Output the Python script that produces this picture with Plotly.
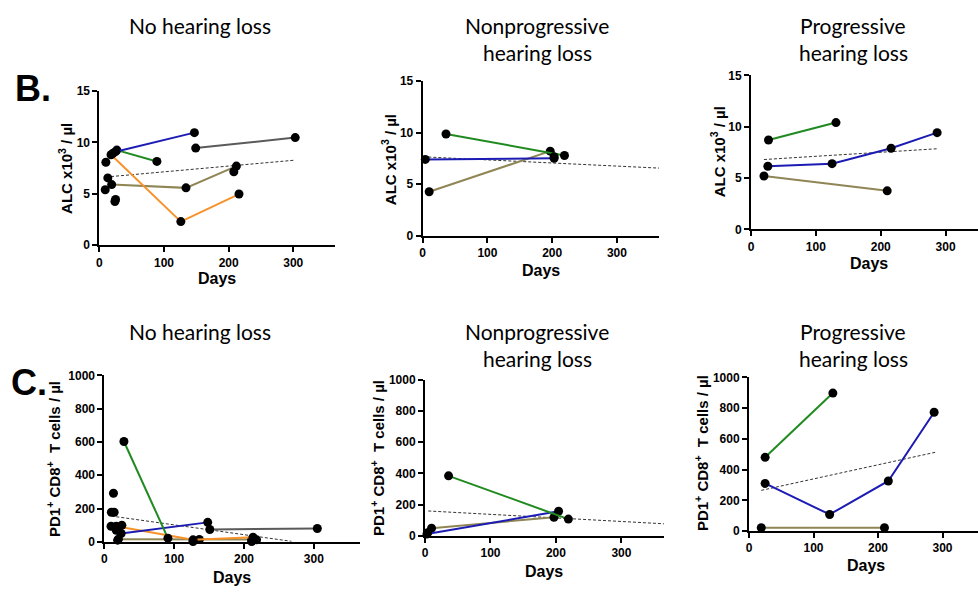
import plotly.graph_objects as go

W, H = 978, 596

# ---------------- DATA ----------------
# colours of the individual patients' lines
C_BLUE = "#1c1cb4"
C_GREEN = "#1f8a1f"
C_ORANGE = "#f7922a"
C_GRAY = "#5a5a5a"
C_OLIVE = "#8f8555"

# Panel B1 : No hearing loss, ALC
b1_blue_days, b1_blue_val = [25, 147], [9.1, 10.95]
b1_green_days, b1_green_val = [27, 89], [9.25, 8.15]
b1_gray_days, b1_gray_val = [149, 303], [9.45, 10.47]
b1_olive_days, b1_olive_val = [19, 134, 212], [5.9, 5.58, 7.7]
b1_orange_days, b1_orange_val = [18, 126, 216], [8.8, 2.3, 4.98]
b1_dot_days = [10, 13, 9, 25, 24, 21, 208]
b1_dot_val = [8.07, 6.55, 5.4, 4.45, 4.25, 8.95, 7.15]
b1_trend_days, b1_trend_val = [18, 302], [6.68, 8.27]

# Panel B2 : Nonprogressive hearing loss, ALC
b2_green_days, b2_green_val = [36, 219], [9.87, 7.78]
b2_blue_days, b2_blue_val = [4, 203], [7.4, 7.5]
b2_olive_days, b2_olive_val = [10, 197], [4.25, 8.2]
b2_dot_days, b2_dot_val = [203], [7.66]
b2_trend_days, b2_trend_val = [1, 366], [7.65, 6.55]

# Panel B3 : Progressive hearing loss, ALC
b3_green_days, b3_green_val = [27, 131], [8.7, 10.4]
b3_blue_days, b3_blue_val = [26, 125, 216, 287], [6.15, 6.4, 7.9, 9.42]
b3_olive_days, b3_olive_val = [20, 210], [5.2, 3.75]
b3_trend_days, b3_trend_val = [20, 287], [6.8, 7.85]

# Panel C1 : No hearing loss, PD1+ CD8+
c1_green_days, c1_green_val = [28, 91], [603, 22]
c1_blue_days, c1_blue_val = [24, 148], [50, 117]
c1_orange_days, c1_orange_val = [17, 127, 213], [94, 12, 28]
c1_gray_days, c1_gray_val = [151, 305], [74, 80]
c1_olive_days, c1_olive_val = [20, 136, 211], [16, 14, 14]
c1_dot_days = [13, 10, 14, 9.5, 25, 17, 19, 218, 127, 211]
c1_dot_val = [292, 178, 178, 94, 100, 69, 10, 12, 2, 2]
c1_trend_days, c1_trend_val = [10, 268], [155, 3]

# Panel C2 : Nonprogressive hearing loss, PD1+ CD8+
c2_green_days, c2_green_val = [36, 219], [385, 108]
c2_blue_days, c2_blue_val = [3, 204], [12, 158]
c2_olive_days, c2_olive_val = [10, 197], [50, 120]
c2_dot_days, c2_dot_val = [4], [21]
c2_trend_days, c2_trend_val = [5, 365], [160, 78]

# Panel C3 : Progressive hearing loss, PD1+ CD8+
c3_green_days, c3_green_val = [25, 130], [480, 898]
c3_blue_days, c3_blue_val = [25, 125, 216, 287], [310, 108, 326, 773]
c3_olive_days, c3_olive_val = [19, 210], [22, 22]
c3_trend_days, c3_trend_val = [19, 289], [265, 513]

x_ticks = [0, 100, 200, 300]
b_ticks = [0, 5, 10, 15]
c_ticks = [0, 200, 400, 600, 800, 1000]

titles_top = [["No hearing loss"], ["Nonprogressive", "hearing loss"], ["Progressive", "hearing loss"]]

# ---------------- LAYOUT helpers ----------------
def px_x(p):
    return p / W

def px_y(p):
    return 1 - p / H

# pixel boxes: (x0, x1, ytop, ybottom, xmax, ymax)
boxes = {
    1: (96.7, 333.3, 86, 244, 365, 15),
    2: (421, 658, 76, 234, 365, 15),
    3: (750.3, 978, 70, 227.7, 350, 15),
    4: (101.7, 358, 377.3, 547.7, 366, 1000),
    5: (423.3, 663, 381.7, 541.7, 365, 1000),
    6: (748.3, 978, 379.3, 536.7, 355, 1000),
}

fig = go.Figure()

def add_series(k, days, vals, color):
    ax = "" if k == 1 else str(k)
    fig.add_trace(go.Scatter(
        x=days, y=vals, mode="lines+markers", xaxis="x" + ax, yaxis="y" + ax,
        line=dict(color=color, width=2),
        marker=dict(color="black", size=9), showlegend=False, cliponaxis=False))

def add_dots(k, days, vals):
    ax = "" if k == 1 else str(k)
    fig.add_trace(go.Scatter(
        x=days, y=vals, mode="markers", xaxis="x" + ax, yaxis="y" + ax,
        marker=dict(color="black", size=9), showlegend=False, cliponaxis=False))

def add_trend(k, days, vals):
    ax = "" if k == 1 else str(k)
    fig.add_trace(go.Scatter(
        x=days, y=vals, mode="lines", xaxis="x" + ax, yaxis="y" + ax,
        line=dict(color="#333333", width=1, dash="3px,2px"), showlegend=False))

# B1
add_trend(1, b1_trend_days, b1_trend_val)
add_series(1, b1_olive_days, b1_olive_val, C_OLIVE)
add_series(1, b1_orange_days, b1_orange_val, C_ORANGE)
add_series(1, b1_gray_days, b1_gray_val, C_GRAY)
add_series(1, b1_green_days, b1_green_val, C_GREEN)
add_series(1, b1_blue_days, b1_blue_val, C_BLUE)
add_dots(1, b1_dot_days, b1_dot_val)
# B2
add_trend(2, b2_trend_days, b2_trend_val)
add_series(2, b2_olive_days, b2_olive_val, C_OLIVE)
add_series(2, b2_blue_days, b2_blue_val, C_BLUE)
add_series(2, b2_green_days, b2_green_val, C_GREEN)
add_dots(2, b2_dot_days, b2_dot_val)
# B3
add_trend(3, b3_trend_days, b3_trend_val)
add_series(3, b3_olive_days, b3_olive_val, C_OLIVE)
add_series(3, b3_blue_days, b3_blue_val, C_BLUE)
add_series(3, b3_green_days, b3_green_val, C_GREEN)
# C1
add_trend(4, c1_trend_days, c1_trend_val)
add_series(4, c1_gray_days, c1_gray_val, C_GRAY)
add_series(4, c1_olive_days, c1_olive_val, C_OLIVE)
add_series(4, c1_orange_days, c1_orange_val, C_ORANGE)
add_series(4, c1_blue_days, c1_blue_val, C_BLUE)
add_series(4, c1_green_days, c1_green_val, C_GREEN)
add_dots(4, c1_dot_days, c1_dot_val)
# C2
add_trend(5, c2_trend_days, c2_trend_val)
add_series(5, c2_olive_days, c2_olive_val, C_OLIVE)
add_series(5, c2_blue_days, c2_blue_val, C_BLUE)
add_series(5, c2_green_days, c2_green_val, C_GREEN)
add_dots(5, c2_dot_days, c2_dot_val)
# C3
add_trend(6, c3_trend_days, c3_trend_val)
add_series(6, c3_olive_days, c3_olive_val, C_OLIVE)
add_series(6, c3_blue_days, c3_blue_val, C_BLUE)
add_series(6, c3_green_days, c3_green_val, C_GREEN)

tickfont = dict(family="Liberation Sans, Arial", size=12, color="black", weight="bold")
layout = dict(
    width=W, height=H, margin=dict(l=0, r=0, t=0, b=0),
    paper_bgcolor="white", plot_bgcolor="white",
    font=dict(family="Liberation Sans, Arial", color="black"),
    showlegend=False,
)
for k, (x0, x1, yt, yb, xmax, ymax) in boxes.items():
    ax = "" if k == 1 else str(k)
    yt_vals = b_ticks if ymax == 15 else c_ticks
    layout["xaxis" + ax] = dict(
        domain=[px_x(x0), px_x(x1)], range=[0, xmax], anchor="y" + ax,
        tickvals=x_ticks, ticks="outside", ticklen=5, tickwidth=2, tickcolor="black",
        showline=True, linecolor="black", linewidth=2, showgrid=False, zeroline=False,
        tickfont=tickfont, fixedrange=True)
    layout["yaxis" + ax] = dict(
        domain=[px_y(yb), px_y(yt)], range=[0, ymax], anchor="x" + ax,
        tickvals=yt_vals, ticks="outside", ticklen=5, tickwidth=2, tickcolor="black",
        showline=True, linecolor="black", linewidth=2, showgrid=False, zeroline=False,
        tickfont=tickfont, fixedrange=True)

fig.update_layout(**layout)

ann = []
titlefont = dict(family="Lato, Open Sans", size=21, color="black")
title_cx = [198, 536, 853]
row_y = {"B": [19, 47], "C": [332, 360]}
for row in ["B", "C"]:
    for i, lines in enumerate(titles_top):
        for j, t in enumerate(lines):
            ann.append(dict(text=t, x=px_x(title_cx[i]), y=px_y(row_y[row][j]),
                            xref="paper", yref="paper", showarrow=False,
                            xanchor="center", yanchor="middle", font=titlefont))

# panel letters
ann.append(dict(text="<b>B.</b>", x=px_x(30), y=px_y(83), xref="paper", yref="paper",
                showarrow=False, xanchor="center", yanchor="middle",
                font=dict(family="Liberation Sans, Arial", size=36, color="black")))
ann.append(dict(text="<b>C.</b>", x=px_x(26), y=px_y(385), xref="paper", yref="paper",
                showarrow=False, xanchor="center", yanchor="middle",
                font=dict(family="Liberation Sans, Arial", size=36, color="black")))

labfont = dict(family="Liberation Sans, Arial", size=15, color="black")
alc_title = "<b>ALC x10<sup>3</sup> / µl</b>"
pd1_title = "<b>PD1<sup>+</sup> CD8<sup>+</sup>  T cells / µl</b>"
ytitles = [(62, 165, alc_title), (387, 156, alc_title), (717, 148, alc_title),
           (50, 463, pd1_title), (375, 462, pd1_title), (700, 457, pd1_title)]
for x, y, t in ytitles:
    ann.append(dict(text=t, x=px_x(x), y=px_y(y), xref="paper", yref="paper",
                    showarrow=False, textangle=-90, xanchor="center", yanchor="middle",
                    font=labfont))
xtitles = [(215, 278), (540, 270), (869, 263), (230, 584), (543, 578), (866, 572)]
for x, y in xtitles:
    ann.append(dict(text="<b>Days</b>", x=px_x(x), y=px_y(y), xref="paper", yref="paper",
                    showarrow=False, xanchor="center", yanchor="middle",
                    font=dict(family="Liberation Sans, Arial", size=16, color="black")))

fig.update_layout(annotations=ann)
fig.write_html("out.html", config={"displayModeBar": False, "staticPlot": True},
               post_script="document.body.style.margin='0';document.body.style.overflow='hidden';")
